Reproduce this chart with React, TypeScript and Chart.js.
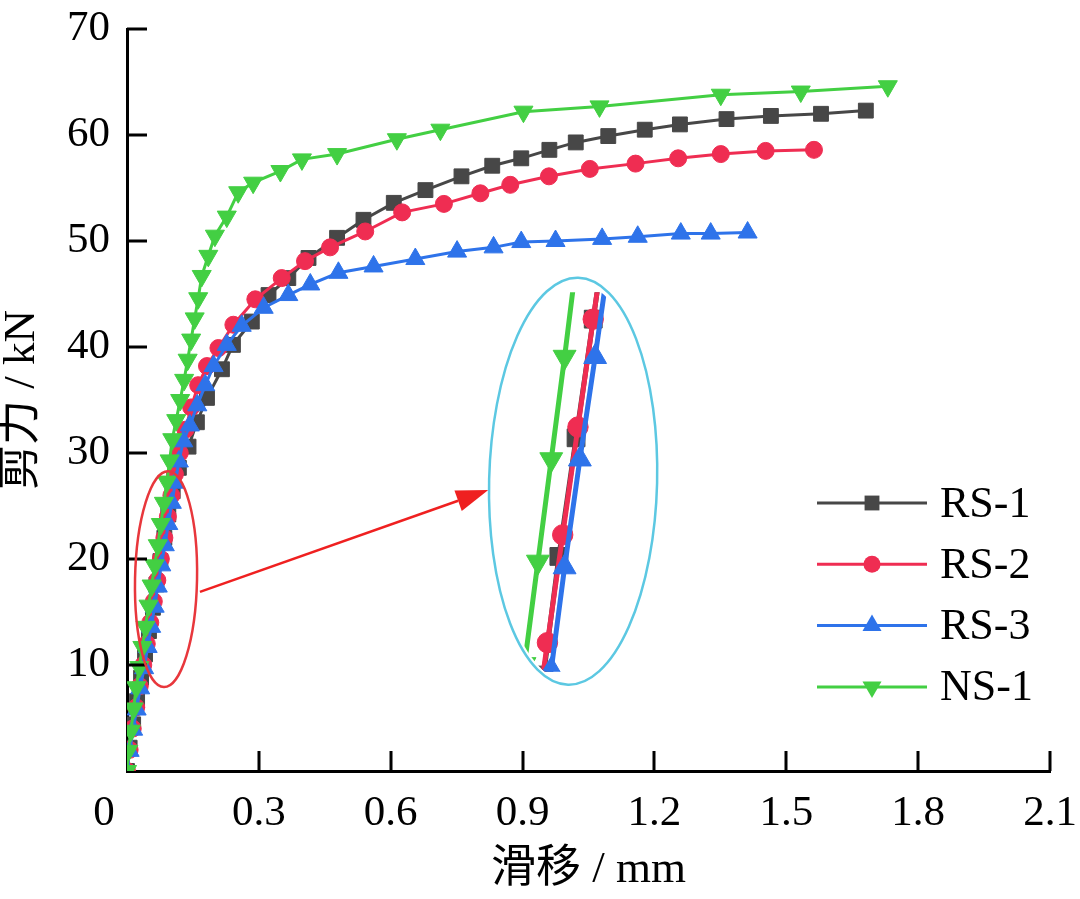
import React, { useEffect, useRef } from 'react';
import { Chart, registerables } from 'chart.js';

Chart.register(...registerables);

// ---------------- data ----------------
const SERIES_NAMES = ['RS-1', 'RS-2', 'RS-3', 'NS-1'];
const SERIES_COLORS = ['#474747', '#ef2d52', '#2e73ea', '#43cf43'];
const POINT_STYLES = ['rect', 'circle', 'triangle', 'triangle'];
const POINT_ROTATIONS = [0, 0, 0, 180];
const POINT_RADII = [10.5, 8.5, 11, 11];

const RS1_SLIP = [0, 0.006, 0.014, 0.023, 0.032, 0.041, 0.05, 0.059, 0.067, 0.076, 0.085, 0.094, 0.104, 0.118, 0.14, 0.159, 0.182, 0.216, 0.241, 0.284, 0.322, 0.367, 0.413, 0.478, 0.538, 0.607, 0.679, 0.761, 0.831, 0.897, 0.961, 1.021, 1.095, 1.178, 1.258, 1.364, 1.465, 1.579, 1.681];
const RS1_LOAD = [0, 2.2, 4.4, 6.6, 8.8, 11, 13.2, 15.4, 17.6, 19.8, 22, 24.2, 26.4, 28.6, 30.6, 32.9, 35.2, 37.9, 40.2, 42.4, 44.9, 46.5, 48.4, 50.3, 52.0, 53.6, 54.8, 56.1, 57.1, 57.8, 58.6, 59.3, 59.9, 60.5, 61.0, 61.5, 61.8, 62.0, 62.3];

const RS2_SLIP = [0, 0.006, 0.013, 0.021, 0.029, 0.037, 0.045, 0.053, 0.061, 0.069, 0.077, 0.085, 0.093, 0.101, 0.109, 0.12, 0.133, 0.146, 0.162, 0.182, 0.208, 0.242, 0.292, 0.352, 0.405, 0.462, 0.542, 0.626, 0.721, 0.804, 0.872, 0.96, 1.053, 1.157, 1.254, 1.351, 1.453, 1.563];
const RS2_LOAD = [0, 2, 4, 6, 8, 10, 12, 14, 16, 18, 20, 22, 24, 26, 28, 30, 32.2, 34.3, 36.4, 38.2, 39.9, 42.1, 44.5, 46.5, 48.1, 49.4, 50.9, 52.7, 53.5, 54.5, 55.3, 56.1, 56.8, 57.3, 57.8, 58.2, 58.5, 58.6];

const RS3_SLIP = [0, 0.006, 0.014, 0.022, 0.03, 0.039, 0.047, 0.055, 0.063, 0.07, 0.078, 0.086, 0.094, 0.102, 0.11, 0.118, 0.128, 0.143, 0.16, 0.178, 0.197, 0.227, 0.261, 0.311, 0.367, 0.417, 0.481, 0.561, 0.656, 0.751, 0.834, 0.897, 0.975, 1.081, 1.162, 1.26, 1.328, 1.412];
const RS3_LOAD = [0, 1.9, 3.9, 5.8, 7.8, 9.7, 11.7, 13.6, 15.5, 17.4, 19.4, 21.3, 23.3, 25.3, 27.2, 29.2, 31.1, 32.6, 34.5, 36.4, 38.2, 40.2, 42.0, 43.7, 44.9, 45.9, 47.0, 47.6, 48.3, 49.0, 49.4, 49.9, 50.0, 50.2, 50.4, 50.7, 50.7, 50.8];

const NS1_SLIP = [0, 0.003, 0.009, 0.015, 0.021, 0.028, 0.035, 0.042, 0.049, 0.056, 0.063, 0.07, 0.077, 0.084, 0.091, 0.097, 0.103, 0.112, 0.121, 0.13, 0.138, 0.146, 0.154, 0.162, 0.17, 0.185, 0.2, 0.227, 0.253, 0.287, 0.349, 0.398, 0.478, 0.614, 0.713, 0.902, 1.075, 1.351, 1.533, 1.731];
const NS1_LOAD = [0, 1.9, 3.8, 5.9, 7.9, 9.8, 11.7, 13.6, 15.6, 17.5, 19.4, 21.3, 23.3, 25.3, 27.3, 29.3, 31.3, 33.1, 35.0, 36.9, 38.8, 40.7, 42.7, 44.6, 46.7, 48.6, 50.5, 52.3, 54.6, 55.5, 56.6, 57.7, 58.2, 59.6, 60.5, 62.2, 62.7, 63.8, 64.1, 64.6];

const SERIES_SLIP = [RS1_SLIP, RS2_SLIP, RS3_SLIP, NS1_SLIP];
const SERIES_LOAD = [RS1_LOAD, RS2_LOAD, RS3_LOAD, NS1_LOAD];

const X_TICKS = [0, 0.3, 0.6, 0.9, 1.2, 1.5, 1.8, 2.1];
const Y_TICKS = [0, 10, 20, 30, 40, 50, 60, 70];
const X_TITLE = '滑移 / mm';
const Y_TITLE = '剪力 / kN';

// magnified window shown in the inset (slip mm, load kN)
const INSET_SLIP_RANGE = [0.0373, 0.1115];
const INSET_LOAD_RANGE = [15.46, 22.5];

// annotation anchors in data units
const RED_ELLIPSE_CENTER = [0.0888, 18.1];
const ARROW_FROM = [0.166, 16.9];
const ARROW_TO = [0.822, 26.5];
const CYAN_ELLIPSE_CENTER = [1.015, 27.34];

const FONT = "'Liberation Serif', 'Noto Sans CJK SC', serif";

function drawMarker(ctx: CanvasRenderingContext2D, style: string, x: number, y: number, r: number, rot: number) {
  ctx.beginPath();
  if (style === 'rect') {
    const s = r * Math.SQRT1_2;
    ctx.rect(x - s, y - s, 2 * s, 2 * s);
  } else if (style === 'circle') {
    ctx.arc(x, y, r, 0, Math.PI * 2);
  } else {
    const a0 = (rot * Math.PI) / 180;
    for (let k = 0; k < 3; k++) {
      const a = a0 + (k * 2 * Math.PI) / 3;
      const px = x + Math.sin(a) * r;
      const py = y - Math.cos(a) * r;
      if (k === 0) ctx.moveTo(px, py);
      else ctx.lineTo(px, py);
    }
    ctx.closePath();
  }
  ctx.fill();
}

function buildDatasets(lineW: number, radiusScale: number) {
  return SERIES_NAMES.map((name, i) => ({
    label: name,
    data: SERIES_SLIP[i].map((x, j) => ({ x, y: SERIES_LOAD[i][j] })),
    borderColor: SERIES_COLORS[i],
    backgroundColor: SERIES_COLORS[i],
    pointBackgroundColor: SERIES_COLORS[i],
    pointBorderColor: SERIES_COLORS[i],
    pointBorderWidth: 1,
    borderWidth: lineW,
    pointStyle: POINT_STYLES[i] as any,
    pointRotation: POINT_ROTATIONS[i],
    pointRadius: POINT_RADII[i] * radiusScale,
    tension: 0,
    order: 3 - i,
  }));
}

const decorPlugin = {
  id: 'decor',
  afterDraw(chart: any) {
    const ctx: CanvasRenderingContext2D = chart.ctx;
    const xs = chart.scales.x;
    const ys = chart.scales.y;
    const ca = chart.chartArea;
    ctx.save();
    // inward tick marks
    ctx.strokeStyle = '#000';
    ctx.lineWidth = 3;
    ctx.beginPath();
    X_TICKS.forEach((v) => {
      if (v === 0) return;
      const px = Math.round(xs.getPixelForValue(v));
      ctx.moveTo(px, ca.bottom);
      ctx.lineTo(px, ca.bottom - 20);
    });
    Y_TICKS.forEach((v) => {
      if (v === 0) return;
      const py = Math.round(ys.getPixelForValue(v));
      ctx.moveTo(ca.left, py);
      ctx.lineTo(ca.left + 20, py);
    });
    ctx.stroke();

    // shared origin label
    ctx.fillStyle = '#000';
    ctx.font = `43px ${FONT}`;
    ctx.textAlign = 'center';
    ctx.textBaseline = 'middle';
    ctx.fillText('0', xs.getPixelForValue(0) - 23, ca.bottom + 43);

    // red ellipse
    const rcx = xs.getPixelForValue(RED_ELLIPSE_CENTER[0]);
    const rcy = ys.getPixelForValue(RED_ELLIPSE_CENTER[1]);
    ctx.strokeStyle = '#e8373c';
    ctx.lineWidth = 2.5;
    ctx.beginPath();
    ctx.ellipse(rcx, rcy, 31, 108, 0.02, 0, Math.PI * 2);
    ctx.stroke();

    // arrow
    const ax0 = xs.getPixelForValue(ARROW_FROM[0]);
    const ay0 = ys.getPixelForValue(ARROW_FROM[1]);
    const ax1 = xs.getPixelForValue(ARROW_TO[0]);
    const ay1 = ys.getPixelForValue(ARROW_TO[1]);
    const ang = Math.atan2(ay1 - ay0, ax1 - ax0);
    const headL = 32;
    const headW = 11;
    const bx = ax1 - Math.cos(ang) * headL;
    const by = ay1 - Math.sin(ang) * headL;
    ctx.strokeStyle = '#ef2020';
    ctx.fillStyle = '#ef2020';
    ctx.lineWidth = 2.5;
    ctx.beginPath();
    ctx.moveTo(ax0, ay0);
    ctx.lineTo(bx, by);
    ctx.stroke();
    ctx.beginPath();
    ctx.moveTo(ax1, ay1);
    ctx.lineTo(bx + Math.sin(ang) * headW, by - Math.cos(ang) * headW);
    ctx.lineTo(bx - Math.sin(ang) * headW, by + Math.cos(ang) * headW);
    ctx.closePath();
    ctx.fill();

    // cyan ellipse
    const ccx = xs.getPixelForValue(CYAN_ELLIPSE_CENTER[0]);
    const ccy = ys.getPixelForValue(CYAN_ELLIPSE_CENTER[1]);
    ctx.strokeStyle = '#5cc8e2';
    ctx.lineWidth = 2.5;
    ctx.beginPath();
    ctx.ellipse(ccx, ccy, 84, 203.5, 0.025, 0, Math.PI * 2);
    ctx.stroke();

    // legend
    ctx.font = `44px ${FONT}`;
    ctx.textAlign = 'left';
    ctx.textBaseline = 'middle';
    SERIES_NAMES.forEach((name, i) => {
      const y = 503 + i * 61.3;
      ctx.strokeStyle = SERIES_COLORS[i];
      ctx.fillStyle = SERIES_COLORS[i];
      ctx.lineWidth = 3;
      ctx.beginPath();
      ctx.moveTo(817, y);
      ctx.lineTo(927, y);
      ctx.stroke();
      drawMarker(ctx, POINT_STYLES[i], 872, y, POINT_RADII[i], POINT_ROTATIONS[i]);
      ctx.fillStyle = '#000';
      ctx.fillText(name, 940, y + 2);
    });
    ctx.restore();
  },
};

const insetClipPlugin = {
  id: 'insetClip',
  beforeDatasetsDraw(chart: any) {
    const ctx: CanvasRenderingContext2D = chart.ctx;
    const w = chart.width;
    const h = chart.height;
    ctx.save();
    ctx.beginPath();
    ctx.ellipse(w / 2, h / 2, w / 2 - 5, h / 2 - 5, 0.025, 0, Math.PI * 2);
    ctx.clip();
  },
  afterDatasetsDraw(chart: any) {
    chart.ctx.restore();
  },
};

export default function App() {
  const mainRef = useRef<HTMLCanvasElement>(null);
  const insetRef = useRef<HTMLCanvasElement>(null);

  useEffect(() => {
    const main = new Chart(mainRef.current as HTMLCanvasElement, {
      type: 'line',
      data: { datasets: buildDatasets(3, 1) as any },
      options: {
        responsive: false,
        animation: false,
        events: [],
        layout: { padding: { top: 29, right: 30, bottom: 0, left: 0 } },
        plugins: { legend: { display: false }, tooltip: { enabled: false } },
        scales: {
          x: {
            type: 'linear',
            min: 0,
            max: 2.1,
            afterBuildTicks: (s: any) => {
              s.ticks = X_TICKS.map((v) => ({ value: v }));
            },
            afterFit: (s: any) => {
              s.height = 128;
              s.paddingLeft = 0;
              s.paddingRight = 0;
              s.paddingTop = 0;
              s.paddingBottom = 0;
            },
            grid: { display: false, drawTicks: false },
            border: { display: true, color: '#000', width: 3 },
            ticks: {
              autoSkip: false,
              maxRotation: 0,
              padding: 17,
              color: '#000',
              font: { family: FONT, size: 43 },
              callback: (v: any) => (Number(v) === 0 ? '' : Number(v).toFixed(1)),
            },
            title: {
              display: true,
              text: X_TITLE,
              color: '#000',
              font: { family: FONT, size: 45, lineHeight: 1 },
              padding: { top: 0, bottom: 6 },
            },
          },
          y: {
            type: 'linear',
            min: 0,
            max: 70,
            afterBuildTicks: (s: any) => {
              s.ticks = Y_TICKS.map((v) => ({ value: v }));
            },
            afterFit: (s: any) => {
              s.width = 127;
              s.paddingLeft = 0;
              s.paddingRight = 0;
              s.paddingTop = 0;
              s.paddingBottom = 0;
            },
            grid: { display: false, drawTicks: false },
            border: { display: true, color: '#000', width: 3 },
            ticks: {
              padding: 17,
              color: '#000',
              font: { family: FONT, size: 43 },
              callback: (v: any) => (Number(v) === 0 ? '' : String(v)),
            },
            title: {
              display: true,
              text: Y_TITLE,
              color: '#000',
              font: { family: FONT, size: 45, lineHeight: 1 },
              padding: { top: 0, bottom: 0 },
            },
          },
        },
      },
      plugins: [decorPlugin],
    });

    const inset = new Chart(insetRef.current as HTMLCanvasElement, {
      type: 'line',
      data: { datasets: buildDatasets(5, 1.2) as any },
      options: {
        responsive: false,
        animation: false,
        events: [],
        layout: { padding: 0 },
        plugins: { legend: { display: false }, tooltip: { enabled: false } },
        scales: {
          x: { type: 'linear', display: false, min: INSET_SLIP_RANGE[0], max: INSET_SLIP_RANGE[1] },
          y: { type: 'linear', display: false, min: INSET_LOAD_RANGE[0], max: INSET_LOAD_RANGE[1] },
        },
      },
      plugins: [insetClipPlugin],
    });

    return () => {
      main.destroy();
      inset.destroy();
    };
  }, []);

  return (
    <div style={{ position: 'absolute', left: 0, top: 0, width: 1080, height: 899, background: '#fff' }}>
      <canvas ref={mainRef} width={1080} height={899} style={{ position: 'absolute', left: 0, top: 0 }} />
      <canvas ref={insetRef} width={170} height={408} style={{ position: 'absolute', left: 488, top: 278 }} />
    </div>
  );
}
